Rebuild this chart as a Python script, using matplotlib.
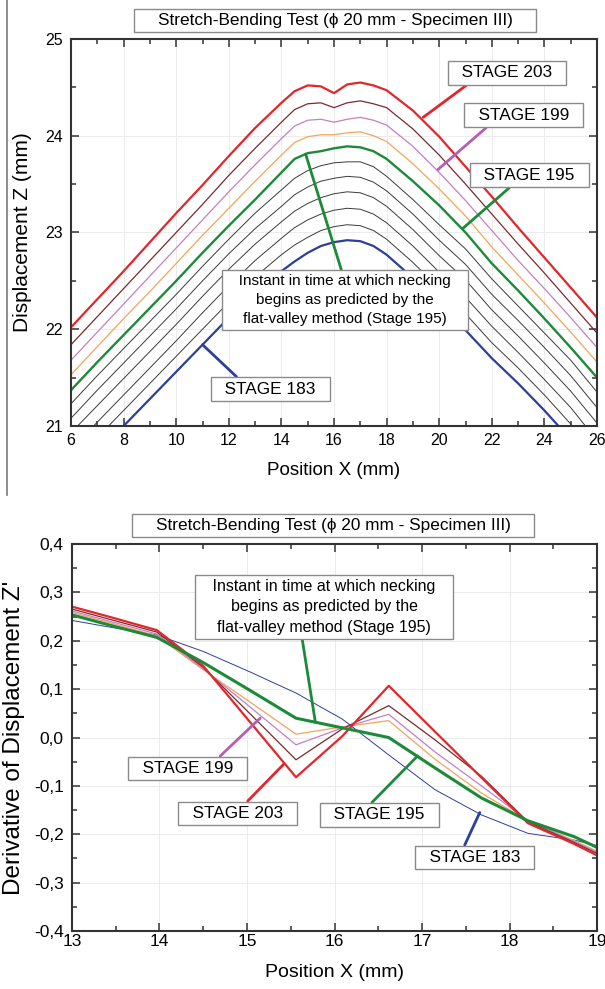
import matplotlib
matplotlib.use("Agg")
import matplotlib.pyplot as plt
from matplotlib.lines import Line2D
from matplotlib.ticker import MultipleLocator, FuncFormatter

plt.rcParams['font.family'] = ['Liberation Sans', 'DejaVu Sans']

TITLE = "Stretch-Bending Test (\u03d5 20 mm - Specimen III)"
NOTE = ["Instant in time at which necking",
        "begins as predicted by the",
        "flat-valley method (Stage 195)"]

# ---------------- top panel: displacement profiles Z(X) ----------------
x_top = [6, 7, 8, 9, 10, 11, 12, 13, 14, 14.5, 15, 15.5, 16, 16.5, 17, 17.5,
         18, 19, 20, 21, 22, 23, 24, 25, 26]
z_183 = [20.44, 20.72, 21.00, 21.28, 21.56, 21.84, 22.12, 22.38, 22.60, 22.70, 22.79, 22.86,
         22.90, 22.92, 22.91, 22.86, 22.77, 22.53, 22.26, 21.99, 21.70, 21.44, 21.16, 20.86, 20.50]
z_185 = [20.60, 20.88, 21.16, 21.44, 21.72, 22.00, 22.28, 22.54, 22.77, 22.87, 22.95, 23.02,
         23.06, 23.08, 23.07, 23.02, 22.93, 22.69, 22.42, 22.16, 21.86, 21.60, 21.32, 21.02, 20.67]
z_187 = [20.76, 21.04, 21.32, 21.60, 21.88, 22.17, 22.45, 22.71, 22.94, 23.05, 23.13, 23.19,
         23.23, 23.25, 23.24, 23.19, 23.10, 22.86, 22.59, 22.33, 22.03, 21.76, 21.48, 21.19, 20.85]
z_189 = [20.93, 21.21, 21.49, 21.77, 22.05, 22.34, 22.62, 22.88, 23.11, 23.22, 23.30, 23.36,
         23.40, 23.42, 23.41, 23.36, 23.27, 23.03, 22.76, 22.51, 22.20, 21.93, 21.65, 21.36, 21.03]
z_191 = [21.08, 21.37, 21.65, 21.93, 22.21, 22.50, 22.78, 23.04, 23.27, 23.39, 23.47, 23.53,
         23.56, 23.58, 23.57, 23.52, 23.43, 23.19, 22.92, 22.67, 22.36, 22.09, 21.81, 21.52, 21.19]
z_193 = [21.23, 21.52, 21.80, 22.08, 22.36, 22.65, 22.93, 23.20, 23.44, 23.56, 23.64, 23.69,
         23.72, 23.73, 23.73, 23.68, 23.58, 23.34, 23.08, 22.83, 22.52, 22.24, 21.96, 21.68, 21.35]
z_195 = [21.37, 21.66, 21.94, 22.22, 22.50, 22.79, 23.07, 23.34, 23.62, 23.76, 23.82, 23.84,
         23.87, 23.89, 23.88, 23.84, 23.76, 23.53, 23.28, 23.00, 22.68, 22.40, 22.11, 21.81, 21.50]
z_197 = [21.53, 21.82, 22.11, 22.39, 22.68, 22.97, 23.25, 23.53, 23.80, 23.93, 23.99, 24.01,
         24.01, 24.03, 24.04, 24.00, 23.94, 23.71, 23.45, 23.17, 22.85, 22.56, 22.27, 21.97, 21.66]
z_199 = [21.68, 21.97, 22.26, 22.55, 22.84, 23.13, 23.42, 23.70, 23.97, 24.10, 24.16, 24.17,
         24.14, 24.17, 24.19, 24.16, 24.11, 23.89, 23.62, 23.33, 23.02, 22.71, 22.42, 22.12, 21.81]
z_201 = [21.84, 22.13, 22.42, 22.71, 23.00, 23.29, 23.59, 23.87, 24.14, 24.27, 24.33, 24.34,
         24.29, 24.34, 24.36, 24.33, 24.29, 24.07, 23.80, 23.50, 23.19, 22.88, 22.58, 22.27, 21.96]
z_203 = [22.02, 22.31, 22.60, 22.90, 23.20, 23.49, 23.79, 24.08, 24.34, 24.46, 24.52, 24.51,
         24.44, 24.53, 24.55, 24.52, 24.47, 24.26, 23.99, 23.68, 23.37, 23.05, 22.74, 22.43, 22.12]

# ---------------- bottom panel: derivative Z'(X) ----------------
x_bot = [12.91, 13.44, 13.97, 14.50, 15.03, 15.56, 16.09, 16.62, 17.15, 17.68, 18.21, 18.74, 19.27]
d_183 = [0.245, 0.228, 0.212, 0.178, 0.136, 0.092, 0.038, -0.036, -0.108, -0.160, -0.198, -0.212, -0.235]
d_195 = [0.258, 0.232, 0.207, 0.155, 0.098, 0.040, 0.020, 0.000, -0.063, -0.125, -0.172, -0.205, -0.250]
d_197 = [0.263, 0.237, 0.210, 0.140, 0.074, 0.007, 0.022, 0.035, -0.045, -0.115, -0.172, -0.213, -0.258]
d_199 = [0.266, 0.240, 0.214, 0.142, 0.064, -0.015, 0.020, 0.048, -0.030, -0.100, -0.172, -0.215, -0.260]
d_201 = [0.270, 0.244, 0.218, 0.145, 0.050, -0.046, 0.018, 0.066, -0.005, -0.080, -0.174, -0.217, -0.263]
d_203 = [0.275, 0.249, 0.222, 0.148, 0.033, -0.082, 0.003, 0.107, 0.012, -0.083, -0.177, -0.220, -0.268]

RED, BROWN, VIOLET, ORANGE = "#e3262b", "#7a2a2e", "#c47fc4", "#f2a55a"
GREEN, BLUE, BLACK = "#1d8a39", "#2c3f9a", "#3a3a3a"
BOXKW = dict(boxstyle="square,pad=0.26", fc="white", ec="#8a8a8a", lw=1.0)

fig = plt.figure(figsize=(6.05, 9.89), dpi=100)
ax1 = fig.add_axes([0.1174, 0.5693, 0.8694, 0.3913])
ax2 = fig.add_axes([0.1190, 0.0586, 0.8678, 0.3913])

# page edge line seen on the left of the top panel
fig.add_artist(Line2D([7 / 605, 7 / 605], [1.0, 1 - 495 / 989],
                      transform=fig.transFigure, color="#7a7a7a", lw=1.2))


def style(ax, tsize):
    ax.grid(True, which="major", color="#ececec", lw=0.7)
    ax.set_axisbelow(True)
    ax.tick_params(which="both", direction="in", top=True, right=True,
                   width=1.1, labelsize=tsize, color="#333333")
    ax.tick_params(which="major", length=6)
    ax.tick_params(which="minor", length=3.5)
    ax.tick_params(axis="y", pad=6)
    for s in ax.spines.values():
        s.set_linewidth(1.5)
        s.set_color("#333333")


def stage(ax, label, xy, xytext, color, rel, fs=12.4):
    ax.annotate("  " + label + "  ", xy=xy, xytext=xytext, ha="center", va="center",
                fontsize=fs, bbox=BOXKW,
                arrowprops=dict(arrowstyle="-", color=color, lw=2.0, shrinkA=0,
                                shrinkB=0, relpos=rel))


# ---------- top ----------
for z in (z_185, z_187, z_189, z_191, z_193):
    ax1.plot(x_top, z, color=BLACK, lw=0.7)
ax1.plot(x_top, z_197, color=ORANGE, lw=0.9)
ax1.plot(x_top, z_199, color=VIOLET, lw=0.9)
ax1.plot(x_top, z_201, color=BROWN, lw=0.9)
ax1.plot(x_top, z_183, color=BLUE, lw=1.6)
ax1.plot(x_top, z_195, color=GREEN, lw=1.7)
ax1.plot(x_top, z_203, color=RED, lw=1.6)

ax1.set_xlim(6, 26)
ax1.set_ylim(21, 25)
ax1.xaxis.set_major_locator(MultipleLocator(2))
ax1.xaxis.set_minor_locator(MultipleLocator(1))
ax1.yaxis.set_major_locator(MultipleLocator(1))
ax1.yaxis.set_minor_locator(MultipleLocator(0.5))
style(ax1, 11.5)
ax1.tick_params(axis="x", pad=5)
ax1.set_xlabel("Position X (mm)", fontsize=13.5, labelpad=10)
ax1.set_ylabel("Displacement Z (mm)", fontsize=15, labelpad=9)

stage(ax1, "STAGE 203", (19.39, 24.19), (22.58, 24.65), RED, (0.19, 0))
stage(ax1, "STAGE 199", (19.95, 23.65), (23.21, 24.21), "#b45fb4", (0.21, 0))
stage(ax1, "STAGE 195", (20.89, 23.04), (23.42, 23.59), GREEN, (0.37, 0))
stage(ax1, "STAGE 183", (11.0, 21.84), (13.58, 21.38), BLUE, (0.24, 1))
ax1.annotate("   " + NOTE[0] + "   \n" + NOTE[1] + "\n" + NOTE[2],
             xy=(14.92, 23.81), xytext=(16.42, 22.30), ha="center", va="center",
             fontsize=11, linespacing=1.45, bbox=dict(BOXKW, pad=0.35),
             arrowprops=dict(arrowstyle="-", color=GREEN, lw=2.0, shrinkA=0,
                             shrinkB=0, relpos=(0.49, 1)))

fig.text(0.5537, 1 - 20.5 / 989, "    " + TITLE + "    ", ha="center", va="center",
         fontsize=12.4, bbox=dict(BOXKW, pad=0.42))

# ---------- bottom ----------
ax2.plot(x_bot, d_183, color=BLUE, lw=0.7)
ax2.plot(x_bot, d_197, color=ORANGE, lw=0.9)
ax2.plot(x_bot, d_199, color=VIOLET, lw=0.9)
ax2.plot(x_bot, d_201, color=BROWN, lw=0.9)
ax2.plot(x_bot, d_203, color=RED, lw=1.6)
ax2.plot(x_bot, d_195, color=GREEN, lw=2.2)

ax2.set_xlim(13, 19)
ax2.set_ylim(-0.4, 0.4)
ax2.xaxis.set_major_locator(MultipleLocator(1))
ax2.xaxis.set_minor_locator(MultipleLocator(0.5))
ax2.yaxis.set_major_locator(MultipleLocator(0.1))
ax2.yaxis.set_minor_locator(MultipleLocator(0.05))
ax2.yaxis.set_major_formatter(FuncFormatter(
    lambda v, p: ("%.1f" % (0.0 if abs(v) < 1e-9 else v)).replace(".", ",")))
style(ax2, 12.5)
ax2.tick_params(axis="x", pad=2)
ax2.set_xlabel("Position X (mm)", fontsize=14, labelpad=11)
ax2.set_ylabel("Derivative of Displacement Z'", fontsize=17.5, labelpad=6)

stage(ax2, "STAGE 199", (15.15, 0.040), (14.32, -0.064), "#b45fb4", (0.75, 1))
stage(ax2, "STAGE 203", (15.42, -0.055), (14.89, -0.157), RED, (0.55, 1))
stage(ax2, "STAGE 195", (16.95, -0.038), (16.51, -0.160), GREEN, (0.39, 1))
stage(ax2, "STAGE 183", (17.66, -0.155), (17.60, -0.248), BLUE, (0.39, 1))
ax2.annotate("   " + NOTE[0] + "   \n" + NOTE[1] + "\n" + NOTE[2],
             xy=(15.78, 0.033), xytext=(15.88, 0.270), ha="center", va="center",
             fontsize=11.5, linespacing=1.45, bbox=dict(BOXKW, pad=0.35),
             arrowprops=dict(arrowstyle="-", color=GREEN, lw=2.0, shrinkA=0,
                             shrinkB=0, relpos=(0.41, 0)))

fig.text(0.5504, 1 - 525.5 / 989, "    " + TITLE + "    ", ha="center", va="center",
         fontsize=12.4, bbox=dict(BOXKW, pad=0.42))

fig.savefig("out.png", dpi=100)
